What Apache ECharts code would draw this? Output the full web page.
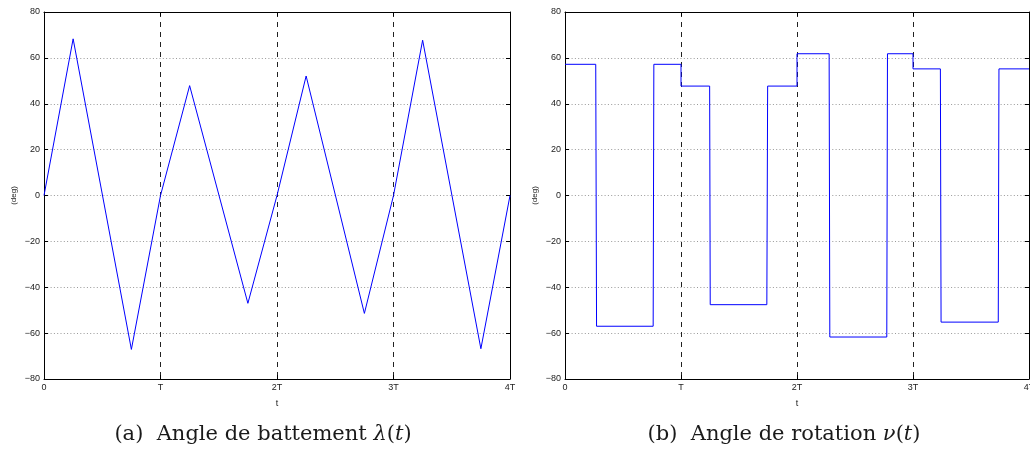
<!DOCTYPE html>
<html>
<head>
<meta charset="utf-8">
<script src="https://cdn.jsdelivr.net/npm/echarts@6/dist/echarts.min.js"></script>
<style>
html,body{margin:0;padding:0;background:#fff;}
#c{width:1030px;height:454px;}
</style>
</head>
<body>
<div id="c"></div>
<script>
// ---- data ----
const xTickLabels = ['0', 'T', '2T', '3T', '4T'];
// (a) flapping angle lambda(t): time in periods T, value in deg
const tA = [0, 0.25, 0.75, 1, 1.25, 1.75, 2, 2.25, 2.75, 3, 3.25, 3.75, 4];
const lambdaVals = [0, 68.3, -67.1, 0, 47.9, -47.0, 0, 52.1, -51.4, 0, 67.7, -66.8, 0];
// (b) rotation angle nu(t)
const tB = [0, 0.265, 0.272, 0.76, 0.766, 1, 1, 1.247, 1.252, 1.74, 1.747, 2, 2, 2.277, 2.283, 2.774, 2.78, 3, 3, 3.236, 3.242, 3.735, 3.741, 4];
const nuVals = [57.2, 57.2, -57.0, -57.0, 57.2, 57.2, 47.7, 47.7, -47.6, -47.6, 47.7, 47.7, 61.8, 61.8, -61.7, -61.7, 61.8, 61.8, 55.2, 55.2, -55.2, -55.2, 55.2, 55.2];
const captionA = ['(a)  Angle de battement ', 'λ', '(', 't', ')'];
const captionB = ['(b)  Angle de rotation ', 'ν', '(', 't', ')'];

const chart = echarts.init(document.getElementById('c'), null, {renderer: 'canvas'});
const labelFont = {fontFamily: 'Liberation Sans, Arial, sans-serif', fontSize: 9, color: '#222'};
const fmtY = v => String(v).replace('-', '\u2212');
const serif = 'DejaVu Serif, Liberation Serif, serif';

function xAxes(gi) {
  return [
    {
      type: 'value', gridIndex: gi, min: 0, max: 4, interval: 1, position: 'bottom',
      name: 't', nameLocation: 'middle', nameGap: 20,
      nameTextStyle: labelFont,
      axisLine: {show: true, onZero: false, lineStyle: {color: '#000', width: 1}},
      axisTick: {show: true, inside: true, length: 4, lineStyle: {color: '#000'}},
      axisLabel: Object.assign({margin: 4, hideOverlap: false, showMaxLabel: true, formatter: v => xTickLabels[Math.round(v)]}, labelFont),
      splitLine: {show: true, lineStyle: {color: '#222', type: [5, 5], width: 1}}
    },
    {
      type: 'value', gridIndex: gi, min: 0, max: 4, interval: 1, position: 'top',
      axisLine: {show: true, onZero: false, lineStyle: {color: '#000', width: 1}},
      axisTick: {show: true, inside: true, length: 4, lineStyle: {color: '#000'}},
      axisLabel: {show: false},
      splitLine: {show: false}
    }
  ];
}
function yAxes(gi) {
  return [
    {
      type: 'value', gridIndex: gi, min: -80, max: 80, interval: 20, position: 'left',
      name: '(deg)', nameLocation: 'middle', nameGap: 26, nameRotate: 90,
      nameTextStyle: Object.assign({}, labelFont, {fontSize: 8}),
      axisLine: {show: true, onZero: false, lineStyle: {color: '#000', width: 1}},
      axisTick: {show: true, inside: true, length: 4, lineStyle: {color: '#000'}},
      axisLabel: Object.assign({margin: 4, formatter: fmtY}, labelFont),
      splitLine: {show: true, lineStyle: {color: '#999', type: [1, 2.3], width: 1}}
    },
    {
      type: 'value', gridIndex: gi, min: -80, max: 80, interval: 20, position: 'right',
      axisLine: {show: true, onZero: false, lineStyle: {color: '#000', width: 1}},
      axisTick: {show: true, inside: true, length: 4, lineStyle: {color: '#000'}},
      axisLabel: {show: false},
      splitLine: {show: false}
    }
  ];
}
function caption(parts, cx) {
  return {
    type: 'text', x: cx, y: 435,
    style: {
      text: '{n|' + parts[0] + '}{i|' + parts[1] + '}{n|' + parts[2] + '}{i|' + parts[3] + '}{n|' + parts[4] + '}',
      align: 'center', verticalAlign: 'middle',
      rich: {
        n: {fontFamily: serif, fontSize: 21, fill: '#1a1a1a'},
        i: {fontFamily: serif, fontSize: 21, fontStyle: 'italic', fill: '#1a1a1a'}
      }
    }
  };
}

const option = {
  animation: false,
  backgroundColor: '#fff',
  grid: [
    {left: 44, top: 12, width: 466, height: 367, show: false, containLabel: false, outerBoundsMode: 'none'},
    {left: 565, top: 12, width: 464, height: 367, show: false, containLabel: false, outerBoundsMode: 'none'}
  ],
  xAxis: [...xAxes(0), ...xAxes(1)],
  yAxis: [...yAxes(0), ...yAxes(1)],
  series: [
    {
      type: 'line', xAxisIndex: 0, yAxisIndex: 0, showSymbol: false, symbol: 'none',
      lineStyle: {color: '#0000ff', width: 1},
      data: tA.map((t, i) => [t, lambdaVals[i]])
    },
    {
      type: 'line', xAxisIndex: 2, yAxisIndex: 2, showSymbol: false, symbol: 'none',
      lineStyle: {color: '#0000ff', width: 1},
      data: tB.map((t, i) => [t, nuVals[i]])
    }
  ],
  graphic: [caption(captionA, 263), caption(captionB, 784)]
};
chart.setOption(option);
</script>
</body>
</html>
